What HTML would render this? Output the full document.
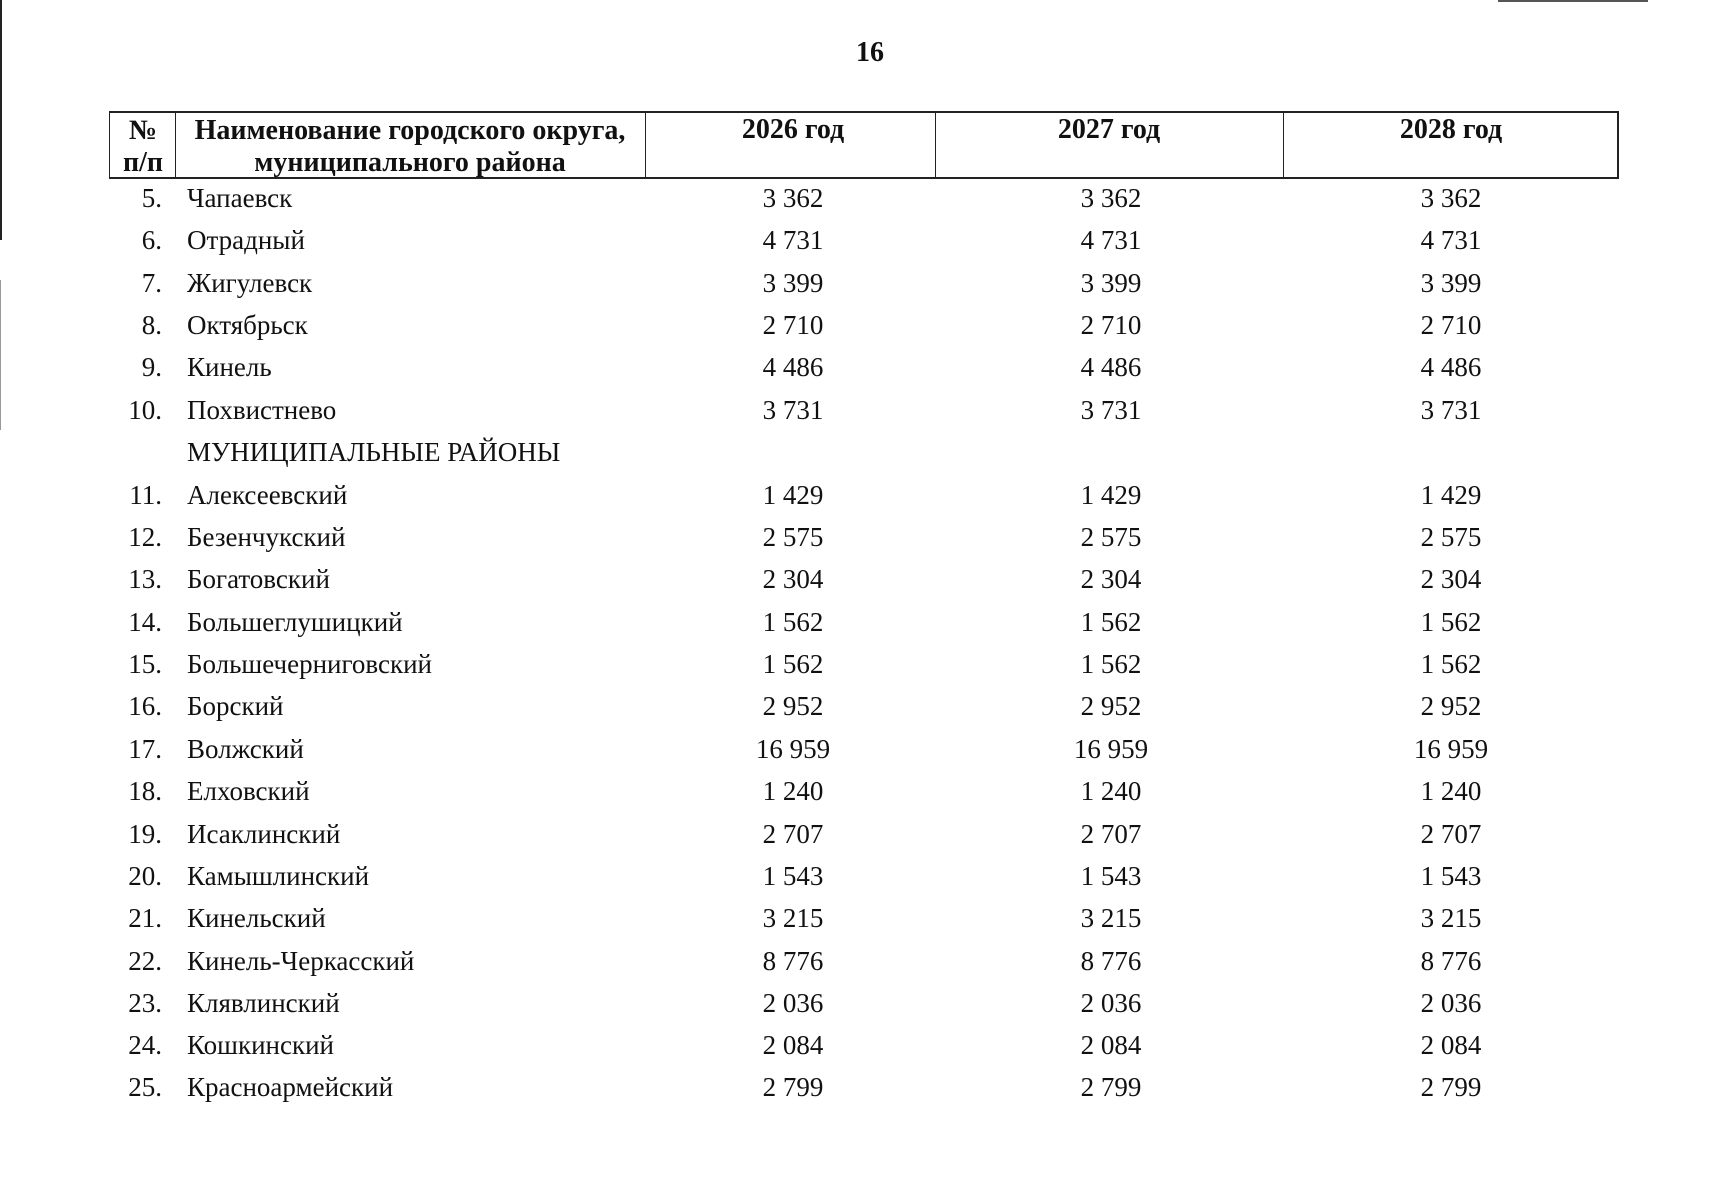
<!DOCTYPE html>
<html><head><meta charset="utf-8"><style>
body{margin:0;width:1711px;height:1200px;background:#fff;position:relative;overflow:hidden;font-family:"Liberation Serif","DejaVu Serif",serif;color:#111}
.a{position:absolute;white-space:nowrap;font-size:27px;line-height:30px}
.n{text-align:right;width:62px;left:100px}
.t{left:187px}
.c{text-align:center;width:200px}
.h{font-weight:bold;font-size:28px}
.l{position:absolute;background:#222}
</style></head><body>
<div class="l" style="left:0;top:0;width:2px;height:240px"></div>
<div class="l" style="left:0;top:280px;width:1px;height:150px;background:#999"></div>
<div class="l" style="left:1498px;top:0;width:150px;height:2px;background:#555"></div>
<div class="a h" style="left:840px;top:38px;width:60px;text-align:center">16</div>
<div class="l" style="left:109px;top:111px;width:1510px;height:2px"></div>
<div class="l" style="left:109px;top:177px;width:1510px;height:2px"></div>
<div class="l" style="left:109px;top:111px;width:1px;height:68px"></div>
<div class="l" style="left:1617px;top:111px;width:2px;height:68px"></div>
<div class="l" style="left:175px;top:111px;width:1px;height:68px"></div>
<div class="l" style="left:645px;top:111px;width:1px;height:68px"></div>
<div class="l" style="left:935px;top:111px;width:1px;height:68px"></div>
<div class="l" style="left:1283px;top:111px;width:1px;height:68px"></div>
<div class="a h" style="left:113px;top:115px;width:60px;text-align:center;line-height:32px">№<br>п/п</div>
<div class="a h" style="left:180px;top:115px;width:460px;text-align:center;line-height:32px">Наименование городского округа,<br>муниципального района</div>
<div class="a h c" style="left:693px;top:115px">2026 год</div>
<div class="a h c" style="left:1009px;top:115px">2027 год</div>
<div class="a h c" style="left:1351px;top:115px">2028 год</div>
<div class="a n" style="top:183px">5.</div><div class="a t" style="top:183px">Чапаевск</div><div class="a c" style="left:693px;top:183px">3 362</div><div class="a c" style="left:1011px;top:183px">3 362</div><div class="a c" style="left:1351px;top:183px">3 362</div>
<div class="a n" style="top:225px">6.</div><div class="a t" style="top:225px">Отрадный</div><div class="a c" style="left:693px;top:225px">4 731</div><div class="a c" style="left:1011px;top:225px">4 731</div><div class="a c" style="left:1351px;top:225px">4 731</div>
<div class="a n" style="top:268px">7.</div><div class="a t" style="top:268px">Жигулевск</div><div class="a c" style="left:693px;top:268px">3 399</div><div class="a c" style="left:1011px;top:268px">3 399</div><div class="a c" style="left:1351px;top:268px">3 399</div>
<div class="a n" style="top:310px">8.</div><div class="a t" style="top:310px">Октябрьск</div><div class="a c" style="left:693px;top:310px">2 710</div><div class="a c" style="left:1011px;top:310px">2 710</div><div class="a c" style="left:1351px;top:310px">2 710</div>
<div class="a n" style="top:352px">9.</div><div class="a t" style="top:352px">Кинель</div><div class="a c" style="left:693px;top:352px">4 486</div><div class="a c" style="left:1011px;top:352px">4 486</div><div class="a c" style="left:1351px;top:352px">4 486</div>
<div class="a n" style="top:395px">10.</div><div class="a t" style="top:395px">Похвистнево</div><div class="a c" style="left:693px;top:395px">3 731</div><div class="a c" style="left:1011px;top:395px">3 731</div><div class="a c" style="left:1351px;top:395px">3 731</div>
<div class="a t" style="top:437px">МУНИЦИПАЛЬНЫЕ РАЙОНЫ</div>
<div class="a n" style="top:480px">11.</div><div class="a t" style="top:480px">Алексеевский</div><div class="a c" style="left:693px;top:480px">1 429</div><div class="a c" style="left:1011px;top:480px">1 429</div><div class="a c" style="left:1351px;top:480px">1 429</div>
<div class="a n" style="top:522px">12.</div><div class="a t" style="top:522px">Безенчукский</div><div class="a c" style="left:693px;top:522px">2 575</div><div class="a c" style="left:1011px;top:522px">2 575</div><div class="a c" style="left:1351px;top:522px">2 575</div>
<div class="a n" style="top:564px">13.</div><div class="a t" style="top:564px">Богатовский</div><div class="a c" style="left:693px;top:564px">2 304</div><div class="a c" style="left:1011px;top:564px">2 304</div><div class="a c" style="left:1351px;top:564px">2 304</div>
<div class="a n" style="top:607px">14.</div><div class="a t" style="top:607px">Большеглушицкий</div><div class="a c" style="left:693px;top:607px">1 562</div><div class="a c" style="left:1011px;top:607px">1 562</div><div class="a c" style="left:1351px;top:607px">1 562</div>
<div class="a n" style="top:649px">15.</div><div class="a t" style="top:649px">Большечерниговский</div><div class="a c" style="left:693px;top:649px">1 562</div><div class="a c" style="left:1011px;top:649px">1 562</div><div class="a c" style="left:1351px;top:649px">1 562</div>
<div class="a n" style="top:691px">16.</div><div class="a t" style="top:691px">Борский</div><div class="a c" style="left:693px;top:691px">2 952</div><div class="a c" style="left:1011px;top:691px">2 952</div><div class="a c" style="left:1351px;top:691px">2 952</div>
<div class="a n" style="top:734px">17.</div><div class="a t" style="top:734px">Волжский</div><div class="a c" style="left:693px;top:734px">16 959</div><div class="a c" style="left:1011px;top:734px">16 959</div><div class="a c" style="left:1351px;top:734px">16 959</div>
<div class="a n" style="top:776px">18.</div><div class="a t" style="top:776px">Елховский</div><div class="a c" style="left:693px;top:776px">1 240</div><div class="a c" style="left:1011px;top:776px">1 240</div><div class="a c" style="left:1351px;top:776px">1 240</div>
<div class="a n" style="top:819px">19.</div><div class="a t" style="top:819px">Исаклинский</div><div class="a c" style="left:693px;top:819px">2 707</div><div class="a c" style="left:1011px;top:819px">2 707</div><div class="a c" style="left:1351px;top:819px">2 707</div>
<div class="a n" style="top:861px">20.</div><div class="a t" style="top:861px">Камышлинский</div><div class="a c" style="left:693px;top:861px">1 543</div><div class="a c" style="left:1011px;top:861px">1 543</div><div class="a c" style="left:1351px;top:861px">1 543</div>
<div class="a n" style="top:903px">21.</div><div class="a t" style="top:903px">Кинельский</div><div class="a c" style="left:693px;top:903px">3 215</div><div class="a c" style="left:1011px;top:903px">3 215</div><div class="a c" style="left:1351px;top:903px">3 215</div>
<div class="a n" style="top:946px">22.</div><div class="a t" style="top:946px">Кинель-Черкасский</div><div class="a c" style="left:693px;top:946px">8 776</div><div class="a c" style="left:1011px;top:946px">8 776</div><div class="a c" style="left:1351px;top:946px">8 776</div>
<div class="a n" style="top:988px">23.</div><div class="a t" style="top:988px">Клявлинский</div><div class="a c" style="left:693px;top:988px">2 036</div><div class="a c" style="left:1011px;top:988px">2 036</div><div class="a c" style="left:1351px;top:988px">2 036</div>
<div class="a n" style="top:1030px">24.</div><div class="a t" style="top:1030px">Кошкинский</div><div class="a c" style="left:693px;top:1030px">2 084</div><div class="a c" style="left:1011px;top:1030px">2 084</div><div class="a c" style="left:1351px;top:1030px">2 084</div>
<div class="a n" style="top:1072px">25.</div><div class="a t" style="top:1072px">Красноармейский</div><div class="a c" style="left:693px;top:1072px">2 799</div><div class="a c" style="left:1011px;top:1072px">2 799</div><div class="a c" style="left:1351px;top:1072px">2 799</div>
</body></html>
